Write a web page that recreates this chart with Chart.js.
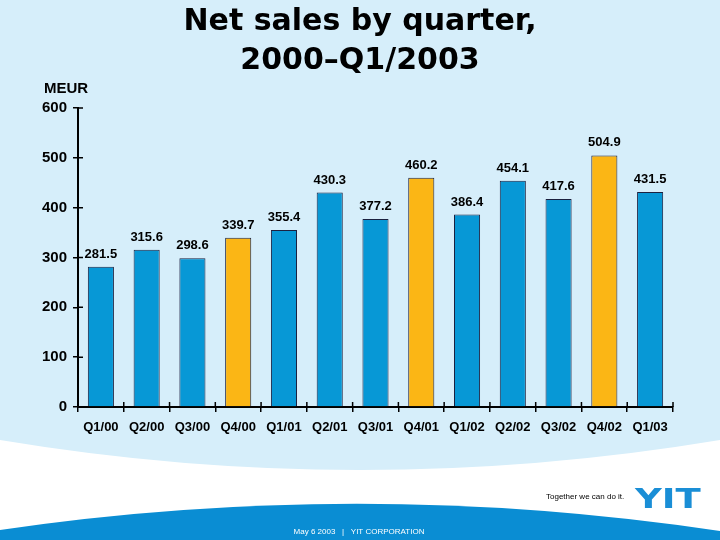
<!DOCTYPE html>
<html>
<head>
<meta charset="utf-8">
<title>Net sales by quarter</title>
<script src="https://cdn.jsdelivr.net/npm/chart.js@4.4.0/dist/chart.umd.min.js"></script>
<style>
  body { margin: 0; background: #ffffff; }
  #grafico { display: block; }
</style>
</head>
<body>
<canvas id="grafico" width="720" height="540"></canvas>
<script>
// Datos del grafico
var quarters = ['Q1/00', 'Q2/00', 'Q3/00', 'Q4/00', 'Q1/01', 'Q2/01', 'Q3/01', 'Q4/01', 'Q1/02', 'Q2/02', 'Q3/02', 'Q4/02', 'Q1/03'];
var netSales = [281.5, 315.6, 298.6, 339.7, 355.4, 430.3, 377.2, 460.2, 386.4, 454.1, 417.6, 504.9, 431.5];
var yTicks = [0, 100, 200, 300, 400, 500, 600];

var blue = '#0798d6';
var orange = '#fbb615';

// Q4 bars are orange, the rest blue
var barColors = [];
quarters.forEach(function(q) {
  barColors.push(q.indexOf('Q4') === 0 ? orange : blue);
});

// Slide background: light blue top, white middle, blue band at the bottom
var fondo = {
  id: 'fondo',
  beforeDraw: function(chart) {
    var ctx = chart.ctx;
    ctx.save();
    ctx.fillStyle = '#ffffff';
    ctx.fillRect(0, 0, 720, 540);

    ctx.fillStyle = '#d6eefa';
    ctx.beginPath();
    ctx.moveTo(0, 0);
    ctx.lineTo(720, 0);
    ctx.lineTo(720, 440);
    ctx.quadraticCurveTo(360, 500, 0, 440);
    ctx.closePath();
    ctx.fill();

    ctx.fillStyle = '#0a8dd3';
    ctx.beginPath();
    ctx.moveTo(0, 540);
    ctx.lineTo(0, 530);
    ctx.quadraticCurveTo(360, 477, 720, 531);
    ctx.lineTo(720, 540);
    ctx.closePath();
    ctx.fill();
    ctx.restore();
  }
};

// Value labels, inner tick marks, unit label and footer
var extras = {
  id: 'extras',
  afterDatasetsDraw: function(chart) {
    var ctx = chart.ctx;
    var meta = chart.getDatasetMeta(0);
    ctx.save();
    ctx.font = 'bold 13px "Liberation Sans", Arial, sans-serif';
    ctx.fillStyle = '#000000';
    ctx.textAlign = 'center';
    ctx.textBaseline = 'middle';
    meta.data.forEach(function(bar, i) {
      ctx.fillText(netSales[i].toFixed(1), bar.x, bar.y - 12.5);
    });
    ctx.restore();
  },
  afterDraw: function(chart) {
    var ctx = chart.ctx;
    var x = chart.scales.x;
    var y = chart.scales.y;
    ctx.save();
    ctx.strokeStyle = '#000000';
    ctx.lineWidth = 1.5;
    ctx.beginPath();
    yTicks.forEach(function(v) {
      var py = y.getPixelForValue(v);
      ctx.moveTo(x.left, py);
      ctx.lineTo(x.left + 5, py);
    });
    var paso = (x.right - x.left) / quarters.length;
    for (var i = 1; i <= quarters.length; i++) {
      var px = x.left + i * paso;
      ctx.moveTo(px, x.top);
      ctx.lineTo(px, x.top - 5);
    }
    ctx.stroke();

    ctx.fillStyle = '#000000';
    ctx.textAlign = 'center';
    ctx.textBaseline = 'middle';
    ctx.font = 'bold 15px "Liberation Sans", Arial, sans-serif';
    ctx.fillText('MEUR', 66, 89);

    ctx.font = '8px "Liberation Sans", Arial, sans-serif';
    ctx.textAlign = 'left';
    ctx.fillText('Together we can do it.', 546, 497);

    ctx.fillStyle = '#ffffff';
    ctx.textAlign = 'center';
    ctx.fillText('May 6 2003   |   YIT CORPORATION', 359, 532);

    // YIT logo, wide letters
    ctx.fillStyle = '#1a8ed6';
    ctx.font = 'bold 27px "DejaVu Sans", sans-serif';
    ctx.textAlign = 'left';
    ctx.textBaseline = 'alphabetic';
    ctx.translate(635, 508);
    ctx.scale(1.37, 1);
    ctx.fillText('YIT', 0, 0);
    ctx.restore();
  }
};

var grafico = new Chart(document.getElementById('grafico').getContext('2d'), {
  type: 'bar',
  data: {
    labels: quarters,
    datasets: [{
      label: 'Net sales',
      data: netSales,
      backgroundColor: barColors,
      borderColor: '#1b2140',
      borderWidth: 1,
      borderSkipped: 'bottom',
      barPercentage: 0.57,
      categoryPercentage: 1
    }]
  },
  options: {
    responsive: false,
    animation: false,
    events: [],
    layout: {
      padding: { left: 0, right: 0, top: 0, bottom: 0 }
    },
    plugins: {
      legend: { display: false },
      tooltip: { enabled: false },
      title: {
        display: true,
        text: ['Net sales by quarter,', '2000\u2013Q1/2003'],
        color: '#000000',
        font: { family: '"DejaVu Sans", sans-serif', size: 30, weight: 'bold', lineHeight: 1.3 },
        padding: { top: 3, bottom: 27 }
      }
    },
    scales: {
      x: {
        offset: true,
        grid: {
          offset: true,
          drawOnChartArea: false,
          tickLength: 5,
          color: '#000000',
          lineWidth: 1.5
        },
        border: { display: true, color: '#000000', width: 2 },
        ticks: {
          color: '#000000',
          padding: 8,
          maxRotation: 0,
          font: { family: '"Liberation Sans", Arial, sans-serif', size: 13, weight: 'bold' }
        },
        afterFit: function(scale) { scale.height = 133; }
      },
      y: {
        min: 0,
        max: 600,
        ticks: {
          stepSize: 100,
          color: '#000000',
          padding: 6,
          font: { family: '"Liberation Sans", Arial, sans-serif', size: 15, weight: 'bold' }
        },
        grid: {
          drawOnChartArea: false,
          tickLength: 5,
          color: '#000000',
          lineWidth: 1.5
        },
        border: { display: true, color: '#000000', width: 2 },
        afterFit: function(scale) { scale.width = 78; }
      },
      // empty right axis, only keeps the right margin so the title stays centred on the page
      margen: {
        position: 'right',
        min: 0,
        max: 600,
        grid: { display: false },
        ticks: { display: false },
        border: { display: false },
        afterFit: function(scale) { scale.width = 47; }
      }
    }
  },
  plugins: [fondo, extras]
});
</script>
</body>
</html>
